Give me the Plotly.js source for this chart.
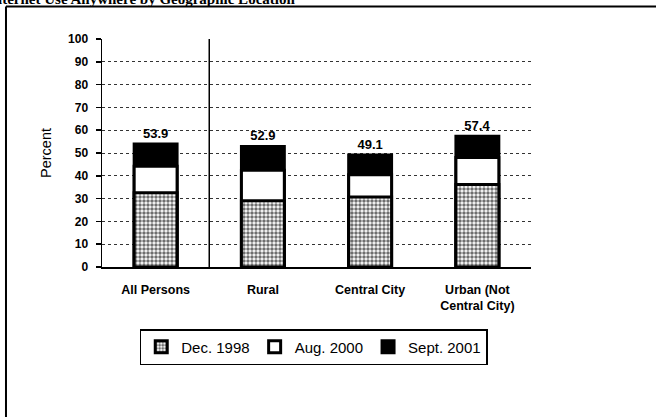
<!DOCTYPE html>
<html>
<head>
<meta charset="utf-8">
<script src="https://cdn.plot.ly/plotly-3.0.1.min.js"></script>
<style>html,body{margin:0;padding:0;background:#fff;}#chart{width:656px;height:417px;}</style>
</head>
<body>
<div id="chart"></div>
<script>
const categories = ["All Persons", "Rural", "Central City", "Urban (Not<br>Central City)"];
const dec1998 = [32.6, 29.1, 30.7, 36.2];
const aug2000 = [44.2, 42.4, 40.5, 48.0];
const sept2001 = [53.9, 52.9, 49.1, 57.4];
const seriesNames = ["Dec. 1998", "Aug. 2000", "Sept. 2001"];
const yTicks = [0, 10, 20, 30, 40, 50, 60, 70, 80, 90, 100];

const barW = 0.40;
const lineStyle = {color: "#000", width: 3};
const FONT = "Arial, 'Liberation Sans', sans-serif";

const traces = [
  {
    type: "bar", name: seriesNames[2], x: categories, y: sept2001, width: barW,
    marker: {color: "#000", line: lineStyle},
    text: sept2001.map(v => v.toFixed(1)), textposition: "outside",
    textfont: {family: FONT, size: 13, color: "#000", weight: "bold"},
    cliponaxis: false, hoverinfo: "skip"
  },
  {
    type: "bar", name: seriesNames[1], x: categories, y: aug2000, width: barW,
    marker: {color: "#fff", line: lineStyle}, textposition: "none", hoverinfo: "skip"
  },
  {
    type: "bar", name: seriesNames[0], x: categories, y: dec1998, width: barW,
    marker: {color: "#fff", line: lineStyle,
             pattern: {shape: ".", fgcolor: "#6e6e6e", bgcolor: "#ffffff", size: 4, solidity: 0.6}},
    textposition: "none", hoverinfo: "skip"
  }
];

const layout = {
  width: 656, height: 417,
  margin: {l: 102, r: 125, t: 39, b: 150},
  paper_bgcolor: "#fff", plot_bgcolor: "#fff",
  barmode: "overlay",
  showlegend: true,
  font: {family: FONT, color: "#000"},
  legend: {
    orientation: "h", x: 0.088, xanchor: "left", y: -0.272, yanchor: "top",
    traceorder: "reversed", bordercolor: "#000", borderwidth: 1.5,
    font: {size: 15, family: FONT},
    itemwidth: 30, bgcolor: "#fff"
  },
  xaxis: {
    type: "category", showline: true, linecolor: "#000", linewidth: 1.5,
    ticks: "", showgrid: false, zeroline: false,
    tickfont: {size: 12.5, weight: "bold", family: FONT},
    ticklabelstandoff: 10, fixedrange: true
  },
  yaxis: {
    range: [0, 100], tickvals: yTicks, ticktext: yTicks.map(String),
    showline: true, linecolor: "#000", linewidth: 1.5,
    ticks: "outside", ticklen: 5, tickwidth: 1.5, tickcolor: "#000",
    tickfont: {size: 12, weight: "bold", family: FONT},
    ticklabelstandoff: 5,
    showgrid: true, gridcolor: "#333", griddash: "dot", gridwidth: 1,
    zeroline: false,
    title: {text: "Percent", font: {size: 14.5}, standoff: 13},
    fixedrange: true
  },
  shapes: [
    {type: "line", xref: "x", yref: "y", x0: 0.5, x1: 0.5, y0: 0, y1: 100,
     line: {color: "#000", width: 1.5}, layer: "above"},
    {type: "line", xref: "paper", yref: "paper", x0: -0.2238, x1: 1.32, y0: 1.1425, y1: 1.1425,
     line: {color: "#000", width: 2}},
    {type: "line", xref: "paper", yref: "paper", x0: -0.2238, x1: -0.2238, y0: 1.1425, y1: -0.7,
     line: {color: "#000", width: 2}}
  ],
  annotations: [
    {xref: "paper", yref: "paper", x: -0.27, xanchor: "left", y: 1.174, yanchor: "middle",
     text: "<b>Internet Use Anywhere by Geographic Location</b>", showarrow: false,
     font: {family: "'Liberation Serif', 'Times New Roman', serif", size: 15, color: "#000"}}
  ]
};

Plotly.newPlot("chart", traces, layout, {displayModeBar: false, staticPlot: true});
</script>
</body>
</html>
